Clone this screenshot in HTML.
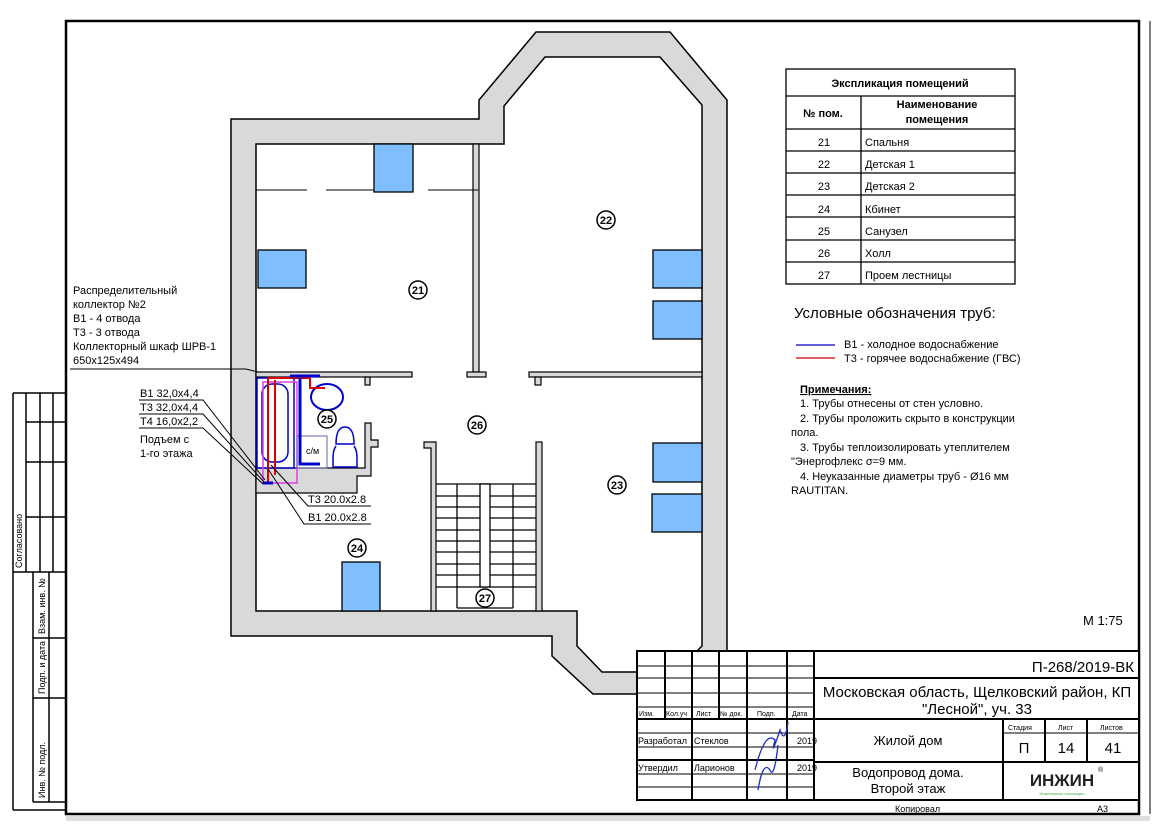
<!DOCTYPE html>
<html><head><meta charset="utf-8"><style>
html,body{margin:0;padding:0;background:#fff;}
svg{display:block;font-family:"Liberation Sans",Arial,sans-serif;}
</style></head><body>
<svg width="1166" height="824" viewBox="0 0 1166 824" xmlns="http://www.w3.org/2000/svg">
<rect width="1166" height="824" fill="#fff"/>
<!-- frame -->
<rect x="66" y="21" width="1073" height="793" fill="none" stroke="#000" stroke-width="2.5"/>
<line x1="1150" y1="21" x2="1150" y2="814" stroke="#000" stroke-width="1"/>
<rect x="66" y="816" width="1084" height="5" fill="#ddd"/>
<!-- left stamp -->
<g stroke="#000" stroke-width="1.5" fill="none">
<line x1="13" y1="393" x2="13" y2="810"/>
<line x1="13" y1="393" x2="66" y2="393"/>
<line x1="26" y1="393" x2="26" y2="572"/>
<line x1="40" y1="393" x2="40" y2="572"/>
<line x1="53" y1="393" x2="53" y2="572"/>
<line x1="26" y1="422" x2="66" y2="422"/>
<line x1="26" y1="462" x2="66" y2="462"/>
<line x1="26" y1="517" x2="66" y2="517"/>
<line x1="13" y1="572" x2="66" y2="572"/>
<line x1="33" y1="572" x2="33" y2="802"/>
<line x1="49" y1="572" x2="49" y2="802"/>
<line x1="33" y1="638" x2="66" y2="638"/>
<line x1="33" y1="698" x2="66" y2="698"/>
<line x1="33" y1="802" x2="66" y2="802"/>
<line x1="13" y1="810" x2="66" y2="810"/>
</g>
<g font-size="9" fill="#000">
<text transform="translate(22,568) rotate(-90)">Согласовано</text>
<text transform="translate(45,634) rotate(-90)">Взам. инв. №</text>
<text transform="translate(45,694) rotate(-90)">Подп. и дата</text>
<text transform="translate(45,798) rotate(-90)">Инв. № подл.</text>
</g>
<!-- walls -->
<g fill="#d9d9d9" stroke="#000" stroke-width="1.5" fill-rule="evenodd">
<path d="M231,119 L479,119 L479,100 L536,32 L670,32 L727,100 L727,651 L637,651 L637,694 L593,694 L552,656 L552,636 L231,636 Z
M256,144 L504,144 L504,106 L545,57 L660,57 L702,105 L702,646 L697,651 L637,651 L637,672 L602,672 L577,646 L577,611 L256,611 Z"/>
</g>
<!-- interior walls -->
<g fill="#d9d9d9" stroke="#000" stroke-width="1.2">
<rect x="256" y="372" width="156" height="5"/>
<rect x="365" y="377" width="5" height="8"/>
<rect x="473" y="144" width="6" height="228"/>
<rect x="467" y="372" width="19" height="5"/>
<rect x="529" y="372" width="173" height="5"/>
<rect x="535" y="377" width="6" height="8"/>
<path d="M256,468 L365,468 L365,423 L371,423 L371,440 L378,440 L378,447 L371,447 L371,476 L357,476 L357,493 L256,493 Z"/>
<path d="M424,442 L436,442 L436,611 L431,611 L431,448 L424,448 Z"/>
<rect x="536" y="442" width="6" height="169"/>
</g>
<!-- dashed beam line -->
<g stroke="#000" stroke-width="1">
<line x1="256" y1="190" x2="307" y2="190"/>
<line x1="326" y1="190" x2="374" y2="190"/>
<line x1="428" y1="190" x2="478" y2="190"/>
</g>
<!-- windows -->
<g fill="#80bfff" stroke="#000" stroke-width="1.3">
<rect x="374" y="144" width="39" height="48"/>
<rect x="258" y="250" width="48" height="38"/>
<rect x="653" y="250" width="49" height="38"/>
<rect x="653" y="301" width="49" height="38"/>
<rect x="653" y="443" width="49" height="39"/>
<rect x="652" y="494" width="50" height="38"/>
<rect x="342" y="562" width="38" height="49"/>
</g>
<!-- stairs -->
<g stroke="#000" stroke-width="1.3" fill="none">
<line x1="436" y1="484" x2="536" y2="484"/>
<line x1="436" y1="496" x2="536" y2="496"/>
<line x1="436" y1="507" x2="536" y2="507"/>
<line x1="436" y1="518" x2="536" y2="518"/>
<line x1="436" y1="530" x2="536" y2="530"/>
<line x1="436" y1="541" x2="536" y2="541"/>
<line x1="436" y1="552" x2="536" y2="552"/>
<line x1="436" y1="564" x2="536" y2="564"/>
<line x1="436" y1="575" x2="536" y2="575"/>
<line x1="436" y1="587" x2="536" y2="587"/>
<line x1="457" y1="484" x2="457" y2="608"/>
<line x1="513" y1="484" x2="513" y2="608"/>
<rect x="480" y="484" width="10" height="103" fill="#fff"/>
<line x1="457" y1="608" x2="513" y2="608"/>
</g>
<!-- bathroom fixtures -->
<g fill="none" stroke-width="1.5">
<rect x="257" y="378" width="37" height="90" stroke="#00c"/>
<rect x="262" y="384" width="26" height="78" rx="10" stroke="#00c"/>
<rect x="263" y="382" width="34" height="101" stroke="#e040e0"/>
<ellipse cx="327" cy="397" rx="16" ry="13" stroke="#00c" stroke-width="2"/>
<path d="M336,444 q0,-17 9,-17 q9,0 9,17 z M336,446 q-3,4 -3,12 l0,9 l24,0 l0,-9 q0,-8 -3,-12" stroke="#00c"/>
<rect x="297" y="436" width="30" height="32" stroke="#66a" stroke-width="1"/>
<path d="M275,380 L275,475 M268,378 L268,482 M268,378 L310,378" stroke="#d00" stroke-width="2"/>
<path d="M300,378 L300,464 L320,464 M290,376 L320,376 M263,483 L273,483" stroke="#00c" stroke-width="3"/>
<path d="M310,378 L310,388 L325,388" stroke="#d00" stroke-width="2"/>
</g>
<text x="306" y="454" font-size="9">с/м</text>
<!-- room labels -->
<g font-size="12" text-anchor="middle" stroke="#000" stroke-width="1.5" fill="#fff">
<circle cx="418" cy="290" r="9"/><circle cx="606" cy="220" r="9"/><circle cx="327" cy="419" r="9"/>
<circle cx="477" cy="425" r="9"/><circle cx="617" cy="485" r="9"/><circle cx="357" cy="548" r="9"/><circle cx="485" cy="598" r="9"/>
</g>
<g font-size="11" text-anchor="middle" fill="#000" font-weight="bold">
<text x="418" y="294">21</text><text x="606" y="224">22</text><text x="327" y="423">25</text>
<text x="477" y="429">26</text><text x="617" y="489">23</text><text x="357" y="552">24</text><text x="485" y="602">27</text>
</g>
<!-- left annotations -->
<g font-size="11" fill="#000">
<text x="73" y="294">Распределительный</text>
<text x="73" y="308">коллектор №2</text>
<text x="73" y="322">В1 - 4 отвода</text>
<text x="73" y="336">Т3 - 3 отвода</text>
<text x="73" y="350">Коллекторный шкаф ШРВ-1</text>
<text x="73" y="364">650x125x494</text>
<text x="140" y="397">В1 32,0x4,4</text>
<text x="140" y="411">Т3 32,0x4,4</text>
<text x="140" y="425">Т4 16,0x2,2</text>
<text x="140" y="443">Подъем с</text>
<text x="140" y="457">1-го этажа</text>
<text x="308" y="503">Т3 20.0x2.8</text>
<text x="308" y="521">В1 20.0x2.8</text>
</g>
<g stroke="#000" stroke-width="1" fill="none">
<path d="M70,369 L246,369 L258,372"/>
<path d="M139,400 L203,400 L265,480"/>
<path d="M139,414 L203,414 L264,482"/>
<path d="M139,428 L203,428 L263,484"/>
<path d="M371,506 L308,506 L271,465"/>
<path d="M371,524 L304,524 L268,469"/>
</g>
<!-- explication table -->
<g stroke="#000" stroke-width="1.3" fill="none">
<rect x="786" y="69" width="229" height="215"/>
<line x1="786" y1="96" x2="1015" y2="96"/>
<line x1="786" y1="129" x2="1015" y2="129"/>
<line x1="786" y1="151" x2="1015" y2="151"/>
<line x1="786" y1="173" x2="1015" y2="173"/>
<line x1="786" y1="195" x2="1015" y2="195"/>
<line x1="786" y1="217" x2="1015" y2="217"/>
<line x1="786" y1="240" x2="1015" y2="240"/>
<line x1="786" y1="262" x2="1015" y2="262"/>
<line x1="861" y1="96" x2="861" y2="284"/>
</g>
<g font-size="11" fill="#000">
<text x="900" y="87" text-anchor="middle" font-weight="bold">Экспликация помещений</text>
<text x="823" y="117" text-anchor="middle" font-weight="bold">№ пом.</text>
<text x="937" y="108" text-anchor="middle" font-weight="bold">Наименование</text>
<text x="937" y="123" text-anchor="middle" font-weight="bold">помещения</text>
<g text-anchor="middle"><text x="824" y="146">21</text><text x="824" y="168">22</text><text x="824" y="190">23</text><text x="824" y="213">24</text><text x="824" y="235">25</text><text x="824" y="257">26</text><text x="824" y="279">27</text></g>
<text x="865" y="146">Спальня</text><text x="865" y="168">Детская 1</text><text x="865" y="190">Детская 2</text><text x="865" y="213">Кбинет</text><text x="865" y="235">Санузел</text><text x="865" y="257">Холл</text><text x="865" y="279">Проем лестницы</text>
</g>
<text x="794" y="318" font-size="15">Условные обозначения  труб:</text>
<line x1="796" y1="345" x2="835" y2="345" stroke="#00c" stroke-width="1.2"/>
<line x1="796" y1="358" x2="835" y2="358" stroke="#c00" stroke-width="1.2"/>
<g font-size="11" fill="#000">
<text x="844" y="348">В1 - холодное водоснабжение</text>
<text x="844" y="362">Т3 - горячее водоснабжение (ГВС)</text>
<text x="800" y="393" font-weight="bold" text-decoration="underline">Примечания:</text>
<text x="800" y="407">1.     Трубы отнесены от стен условно.</text>
<text x="800" y="422">2.     Трубы проложить скрыто в конструкции</text>
<text x="791" y="436">пола.</text>
<text x="800" y="451">3.     Трубы теплоизолировать утеплителем</text>
<text x="791" y="465">"Энергофлекс σ=9 мм.</text>
<text x="800" y="480">4.     Неуказанные диаметры труб - Ø16 мм</text>
<text x="791" y="494">RAUTITAN.</text>
</g>
<text x="1083" y="625" font-size="13">М 1:75</text>
<!-- title block -->
<rect x="637" y="651" width="502" height="149" fill="#fff" stroke="#000" stroke-width="2"/>
<g stroke="#000" stroke-width="1">
<line x1="637" y1="666" x2="814" y2="666"/><line x1="637" y1="678" x2="814" y2="678"/>
<line x1="637" y1="693" x2="814" y2="693"/><line x1="637" y1="707" x2="814" y2="707"/>
<line x1="637" y1="733" x2="814" y2="733"/><line x1="637" y1="747" x2="814" y2="747"/>
<line x1="637" y1="774" x2="814" y2="774"/><line x1="637" y1="787" x2="814" y2="787"/>
<line x1="1003" y1="733" x2="1139" y2="733"/>
</g>
<g stroke="#000" stroke-width="2">
<line x1="637" y1="719" x2="1139" y2="719"/><line x1="637" y1="760" x2="814" y2="760"/>
<line x1="814" y1="678" x2="1139" y2="678"/><line x1="814" y1="762" x2="1139" y2="762"/>
<line x1="665" y1="651" x2="665" y2="719"/><line x1="692" y1="651" x2="692" y2="800"/>
<line x1="719" y1="651" x2="719" y2="719"/><line x1="747" y1="651" x2="747" y2="800"/>
<line x1="787" y1="651" x2="787" y2="800"/><line x1="814" y1="651" x2="814" y2="800"/>
<line x1="1003" y1="719" x2="1003" y2="800"/><line x1="1045" y1="719" x2="1045" y2="762"/>
<line x1="1087" y1="719" x2="1087" y2="762"/>
</g>
<g font-size="7" fill="#000">
<text x="639" y="716">Изм.</text><text x="666" y="716">Кол.уч</text><text x="696" y="716">Лист</text><text x="720" y="716">№ док.</text><text x="757" y="716">Подп.</text><text x="792" y="716">Дата</text>
<text x="1008" y="730">Стадия</text><text x="1058" y="730">Лист</text><text x="1100" y="730">Листов</text>
</g>
<g font-size="9" fill="#000">
<text x="638" y="744">Разработал</text><text x="694" y="744">Стеклов</text><text x="797" y="744">2019</text>
<text x="638" y="771">Утвердил</text><text x="694" y="771">Ларионов</text><text x="797" y="771">2019</text>
<text x="895" y="812">Копировал</text><text x="1097" y="812">А3</text>
</g>
<path d="M755,770 q10,-40 20,-30 q-5,20 5,-10 q5,15 8,-8 M758,790 q5,-30 12,-20 q4,10 8,-25" stroke="#2030c0" stroke-width="1.3" fill="none"/>
<text x="1134" y="672" font-size="15" text-anchor="end">П-268/2019-ВК</text>
<text x="977" y="697" font-size="15" text-anchor="middle">Московская область, Щелковский район, КП</text>
<text x="977" y="714" font-size="15" text-anchor="middle">"Лесной", уч. 33</text>
<text x="908" y="745" font-size="13" text-anchor="middle">Жилой дом</text>
<text x="1024" y="753" font-size="15" text-anchor="middle">П</text>
<text x="1066" y="753" font-size="15" text-anchor="middle">14</text>
<text x="1113" y="753" font-size="15" text-anchor="middle">41</text>
<text x="908" y="777" font-size="13" text-anchor="middle">Водопровод дома.</text>
<text x="908" y="793" font-size="13" text-anchor="middle">Второй этаж</text>
<text x="1062" y="786" font-size="17" font-weight="bold" text-anchor="middle" fill="#222">ИНЖИН</text>
<text x="1098" y="772" font-size="7">®</text>
<text x="1062" y="795" font-size="4" text-anchor="middle" fill="#4a4">Инженерные инновации</text>
</svg>
</body></html>
